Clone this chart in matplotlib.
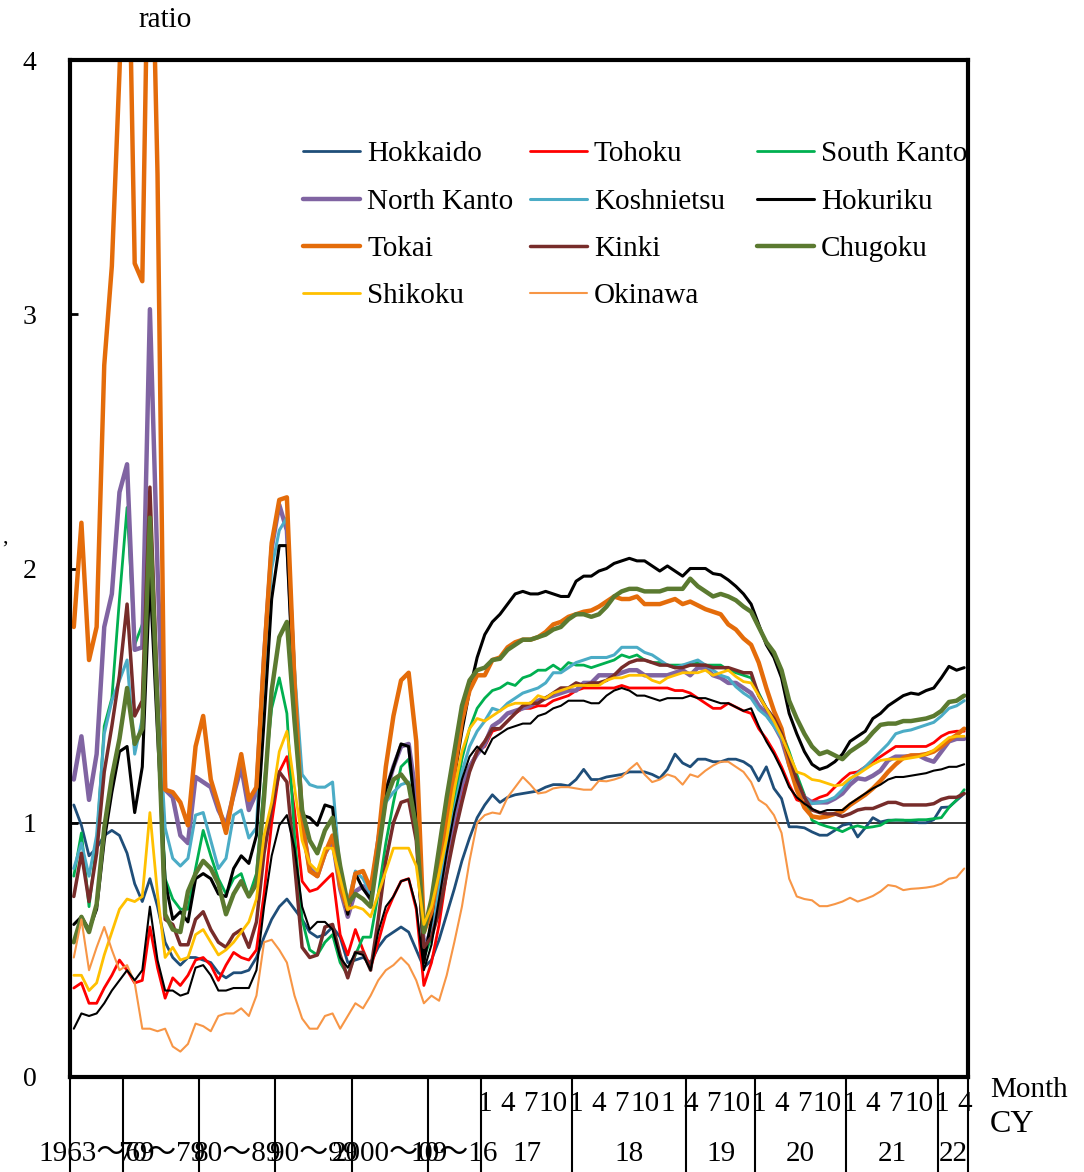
import matplotlib
matplotlib.use('Agg')
import matplotlib.pyplot as plt
import matplotlib.transforms as mtransforms

plt.rcParams['font.family'] = ['Liberation Serif', 'Noto Sans CJK JP']

# ---------------- data ----------------
annual_years = list(range(1963, 2017))            # 54 annual points
monthly_months = [(y, m) for y in range(2017, 2023) for m in range(1, 13)][:64]  # Jan 2017 - Apr 2022

group_labels = ['1963～69', '70～79', '80～89', '90～99', '2000～09', '10～16',
                '17', '18', '19', '20', '21', '22']
group_sizes = [7, 10, 10, 10, 10, 7, 12, 15, 9, 12, 12, 4]

hokkaido_annual = [1.07, 0.99, 0.87, 0.90, 0.95, 0.97, 0.95, 0.88, 0.76, 0.69,
                   0.78, 0.67, 0.53, 0.47, 0.44, 0.47, 0.47, 0.46, 0.45, 0.41,
                   0.39, 0.41, 0.41, 0.42, 0.47, 0.55, 0.62, 0.67, 0.70, 0.66,
                   0.62, 0.57, 0.55, 0.56, 0.59, 0.55, 0.45, 0.46, 0.47, 0.45,
                   0.51, 0.55, 0.57, 0.59, 0.57, 0.50, 0.43, 0.46, 0.54, 0.64,
                   0.74, 0.85, 0.94, 1.02]
hokkaido_monthly = [1.07, 1.11, 1.08, 1.10, 1.11, 1.115, 1.12, 1.125, 1.14, 1.15, 1.15, 1.145,
                    1.17, 1.21, 1.17, 1.17, 1.18, 1.185, 1.19, 1.20, 1.20, 1.20, 1.19, 1.175,
                    1.21, 1.27, 1.235, 1.22, 1.25, 1.25, 1.24, 1.24, 1.25, 1.25, 1.24, 1.22,
                    1.165, 1.22, 1.135, 1.095, 0.984, 0.984, 0.98, 0.964, 0.951, 0.951, 0.97, 0.99,
                    0.997, 0.944, 0.98, 1.02, 1.003, 1.01, 1.01, 1.01, 1.005, 1.0, 1.0, 1.012,
                    1.06, 1.062, 1.088, 1.114]

tohoku_annual = [0.35, 0.37, 0.29, 0.29, 0.35, 0.40, 0.46, 0.42, 0.37, 0.38,
                 0.59, 0.43, 0.31, 0.39, 0.36, 0.40, 0.46, 0.47, 0.44, 0.38,
                 0.44, 0.49, 0.47, 0.46, 0.50, 0.72, 1.00, 1.20, 1.26, 1.05,
                 0.77, 0.73, 0.74, 0.77, 0.80, 0.56, 0.48, 0.58, 0.50, 0.43,
                 0.53, 0.64, 0.71, 0.77, 0.78, 0.66, 0.36, 0.45, 0.60, 0.80,
                 0.98, 1.12, 1.22, 1.28]
tohoku_monthly = [1.30, 1.36, 1.37, 1.40, 1.43, 1.45, 1.45, 1.46, 1.46, 1.48, 1.49, 1.50,
                  1.52, 1.53, 1.53, 1.53, 1.53, 1.53, 1.54, 1.53, 1.53, 1.53, 1.53, 1.53,
                  1.53, 1.52, 1.52, 1.51, 1.49, 1.47, 1.45, 1.45, 1.47, 1.455, 1.44, 1.43,
                  1.37, 1.33, 1.28, 1.22, 1.15, 1.09, 1.08, 1.085, 1.10, 1.11, 1.14, 1.17,
                  1.195, 1.20, 1.22, 1.24, 1.26, 1.28, 1.30, 1.30, 1.30, 1.30, 1.30, 1.315,
                  1.34, 1.355, 1.36, 1.36]

south_kanto_annual = [0.79, 0.96, 0.67, 0.92, 1.38, 1.49, 1.88, 2.24, 1.70, 1.78,
                      2.05, 1.45, 0.78, 0.70, 0.66, 0.66, 0.82, 0.97, 0.87, 0.78,
                      0.72, 0.78, 0.80, 0.71, 0.80, 1.15, 1.45, 1.57, 1.43, 0.95,
                      0.62, 0.50, 0.48, 0.53, 0.56, 0.45, 0.40, 0.48, 0.55, 0.55,
                      0.72, 0.92, 1.08, 1.22, 1.25, 1.05, 0.47, 0.55, 0.70, 0.90,
                      1.08, 1.25, 1.37, 1.45]
south_kanto_monthly = [1.49, 1.52, 1.53, 1.55, 1.54, 1.57, 1.58, 1.60, 1.60, 1.62, 1.60, 1.63,
                       1.62, 1.62, 1.61, 1.62, 1.63, 1.64, 1.66, 1.65, 1.66, 1.64, 1.63, 1.63,
                       1.62, 1.62, 1.62, 1.62, 1.63, 1.62, 1.62, 1.62, 1.60, 1.59, 1.58, 1.57,
                       1.51, 1.45, 1.41, 1.36, 1.28, 1.19, 1.11, 1.01, 0.995, 0.985, 0.977, 0.965,
                       0.98, 0.988, 0.98, 0.984, 0.99, 1.008, 1.011, 1.01, 1.01, 1.012, 1.012, 1.016,
                       1.02, 1.06, 1.09, 1.13]

north_kanto_annual = [1.17, 1.34, 1.09, 1.27, 1.77, 1.90, 2.30, 2.41, 1.68, 1.69,
                      3.02, 2.00, 1.13, 1.10, 0.95, 0.92, 1.18, 1.16, 1.14, 1.05,
                      0.99, 1.11, 1.22, 1.05, 1.12, 1.65, 2.08, 2.25, 2.15, 1.55,
                      1.00, 0.82, 0.79, 0.88, 0.93, 0.74, 0.63, 0.73, 0.75, 0.70,
                      0.93, 1.12, 1.22, 1.30, 1.31, 1.10, 0.50, 0.58, 0.72, 0.88,
                      1.02, 1.15, 1.22, 1.27]
north_kanto_monthly = [1.31, 1.38, 1.40, 1.43, 1.44, 1.45, 1.46, 1.48, 1.49, 1.50, 1.51, 1.52,
                       1.52, 1.55, 1.55, 1.58, 1.58, 1.58, 1.59, 1.60, 1.60, 1.58, 1.58, 1.58,
                       1.58, 1.59, 1.60, 1.58, 1.61, 1.61, 1.58, 1.57, 1.55, 1.55, 1.53, 1.51,
                       1.46, 1.43, 1.385, 1.33, 1.23, 1.15, 1.10, 1.08, 1.08, 1.08, 1.095, 1.115,
                       1.15, 1.175, 1.17, 1.185, 1.205, 1.245, 1.26, 1.26, 1.262, 1.265, 1.25, 1.24,
                       1.28, 1.32, 1.33, 1.33]

koshinetsu_annual = [0.82, 0.92, 0.79, 0.95, 1.35, 1.48, 1.56, 1.64, 1.27, 1.41,
                     2.05, 1.50, 0.98, 0.86, 0.83, 0.86, 1.03, 1.04, 0.93, 0.82,
                     0.86, 1.03, 1.05, 0.94, 0.98, 1.55, 2.00, 2.15, 2.20, 1.60,
                     1.19, 1.15, 1.14, 1.14, 1.16, 0.80, 0.68, 0.81, 0.78, 0.72,
                     0.92, 1.08, 1.12, 1.15, 1.16, 1.00, 0.47, 0.60, 0.75, 0.90,
                     1.05, 1.20, 1.30, 1.36]
koshinetsu_monthly = [1.40, 1.45, 1.44, 1.47, 1.49, 1.51, 1.52, 1.53, 1.55, 1.59, 1.59, 1.61,
                      1.63, 1.64, 1.65, 1.65, 1.65, 1.66, 1.69, 1.69, 1.69, 1.67, 1.66, 1.64,
                      1.62, 1.61, 1.62, 1.63, 1.64, 1.62, 1.60, 1.58, 1.57, 1.535, 1.51, 1.49,
                      1.445, 1.42, 1.38, 1.335, 1.26, 1.165, 1.10, 1.075, 1.08, 1.087, 1.10, 1.13,
                      1.17, 1.195, 1.22, 1.25, 1.28, 1.31, 1.35, 1.36, 1.365, 1.375, 1.385, 1.395,
                      1.42, 1.45, 1.46, 1.48]

hokuriku_annual = [0.60, 0.63, 0.58, 0.66, 0.93, 1.12, 1.28, 1.30, 1.04, 1.22,
                   1.97, 1.35, 0.77, 0.62, 0.65, 0.61, 0.78, 0.80, 0.78, 0.72,
                   0.71, 0.82, 0.87, 0.84, 0.95, 1.40, 1.88, 2.09, 2.09, 1.45,
                   1.03, 1.02, 0.99, 1.07, 1.06, 0.78, 0.64, 0.80, 0.74, 0.70,
                   0.90, 1.13, 1.22, 1.31, 1.30, 1.00, 0.45, 0.62, 0.87, 1.02,
                   1.18, 1.36, 1.52, 1.65]
hokuriku_monthly = [1.74, 1.79, 1.82, 1.86, 1.90, 1.91, 1.90, 1.90, 1.91, 1.90, 1.89, 1.89,
                    1.95, 1.97, 1.97, 1.99, 2.00, 2.02, 2.03, 2.04, 2.03, 2.03, 2.01, 1.99,
                    2.01, 1.99, 1.97, 2.00, 2.00, 2.00, 1.98, 1.975, 1.955, 1.93, 1.90, 1.86,
                    1.78, 1.70, 1.65, 1.57, 1.43, 1.35, 1.28, 1.23, 1.21, 1.22, 1.24, 1.27,
                    1.32, 1.34, 1.36, 1.41, 1.43, 1.46, 1.48, 1.50, 1.51, 1.505, 1.52, 1.53,
                    1.57, 1.615, 1.60, 1.61]

tokai_annual = [1.77, 2.18, 1.64, 1.77, 2.80, 3.19, 3.95, 4.85, 3.20, 3.13,
                4.90, 3.55, 1.13, 1.12, 1.08, 0.99, 1.30, 1.42, 1.17, 1.07,
                0.96, 1.12, 1.27, 1.09, 1.14, 1.65, 2.10, 2.27, 2.28, 1.55,
                1.00, 0.81, 0.79, 0.88, 0.95, 0.75, 0.66, 0.80, 0.81, 0.74,
                0.93, 1.22, 1.42, 1.56, 1.59, 1.32, 0.57, 0.65, 0.82, 1.00,
                1.20, 1.40, 1.52, 1.58]
tokai_monthly = [1.58, 1.64, 1.65, 1.69, 1.71, 1.72, 1.72, 1.73, 1.75, 1.78, 1.79, 1.81,
                 1.82, 1.83, 1.835, 1.85, 1.87, 1.89, 1.88, 1.88, 1.89, 1.86, 1.86, 1.86,
                 1.87, 1.88, 1.86, 1.87, 1.855, 1.84, 1.83, 1.82, 1.78, 1.76, 1.725, 1.70,
                 1.63, 1.53, 1.44, 1.37, 1.23, 1.13, 1.06, 1.025, 1.02, 1.025, 1.035, 1.045,
                 1.07, 1.09, 1.11, 1.135, 1.165, 1.20, 1.23, 1.255, 1.265, 1.265, 1.27, 1.28,
                 1.30, 1.325, 1.345, 1.37]

kinki_annual = [0.71, 0.88, 0.69, 0.88, 1.20, 1.38, 1.58, 1.86, 1.42, 1.48,
                2.32, 1.50, 0.62, 0.60, 0.52, 0.52, 0.62, 0.65, 0.58, 0.53,
                0.51, 0.56, 0.58, 0.51, 0.61, 0.88, 1.06, 1.20, 1.16, 0.84,
                0.51, 0.47, 0.48, 0.59, 0.60, 0.48, 0.39, 0.49, 0.49, 0.42,
                0.62, 0.85, 1.00, 1.08, 1.09, 0.93, 0.51, 0.55, 0.65, 0.80,
                0.95, 1.08, 1.20, 1.28]
kinki_monthly = [1.32, 1.37, 1.37, 1.40, 1.43, 1.46, 1.47, 1.47, 1.49, 1.51, 1.53, 1.53,
                 1.55, 1.54, 1.55, 1.55, 1.56, 1.58, 1.61, 1.63, 1.64, 1.64, 1.63, 1.62,
                 1.62, 1.61, 1.61, 1.62, 1.62, 1.62, 1.61, 1.61, 1.61, 1.60, 1.59, 1.59,
                 1.50, 1.45, 1.41, 1.35, 1.26, 1.17, 1.10, 1.05, 1.04, 1.035, 1.035, 1.025,
                 1.035, 1.05, 1.056, 1.056, 1.068, 1.08, 1.08, 1.07, 1.07, 1.07, 1.07, 1.075,
                 1.092, 1.10, 1.10, 1.115]

chugoku_annual = [0.53, 0.63, 0.57, 0.68, 0.98, 1.18, 1.33, 1.53, 1.31, 1.37,
                  2.20, 1.45, 0.64, 0.58, 0.57, 0.73, 0.80, 0.85, 0.82, 0.76,
                  0.64, 0.72, 0.77, 0.71, 0.76, 1.10, 1.52, 1.73, 1.79, 1.40,
                  1.05, 0.93, 0.88, 0.97, 1.02, 0.83, 0.68, 0.72, 0.70, 0.67,
                  0.88, 1.09, 1.17, 1.19, 1.15, 0.98, 0.57, 0.70, 0.90, 1.10,
                  1.28, 1.46, 1.56, 1.60]
chugoku_monthly = [1.61, 1.64, 1.645, 1.68, 1.70, 1.72, 1.72, 1.73, 1.74, 1.76, 1.77, 1.80,
                   1.82, 1.82, 1.81, 1.82, 1.85, 1.89, 1.91, 1.92, 1.92, 1.91, 1.91, 1.91,
                   1.92, 1.92, 1.92, 1.96, 1.93, 1.91, 1.89, 1.90, 1.89, 1.875, 1.85, 1.83,
                   1.77, 1.71, 1.67, 1.60, 1.48, 1.41, 1.35, 1.30, 1.27, 1.28, 1.265, 1.25,
                   1.28, 1.30, 1.32, 1.355, 1.385, 1.39, 1.39, 1.40, 1.40, 1.405, 1.41, 1.42,
                   1.44, 1.475, 1.48, 1.50]

shikoku_annual = [0.40, 0.40, 0.34, 0.37, 0.48, 0.57, 0.66, 0.70, 0.69, 0.71,
                  1.04, 0.72, 0.47, 0.51, 0.46, 0.47, 0.56, 0.58, 0.53, 0.48,
                  0.50, 0.53, 0.57, 0.61, 0.70, 0.95, 1.08, 1.28, 1.36, 1.14,
                  0.93, 0.84, 0.81, 0.90, 0.90, 0.78, 0.66, 0.67, 0.66, 0.63,
                  0.72, 0.81, 0.90, 0.90, 0.90, 0.83, 0.60, 0.67, 0.80, 0.94,
                  1.13, 1.28, 1.37, 1.41]
shikoku_monthly = [1.40, 1.42, 1.44, 1.46, 1.47, 1.47, 1.47, 1.50, 1.49, 1.51, 1.52, 1.53,
                   1.54, 1.54, 1.54, 1.54, 1.56, 1.57, 1.57, 1.58, 1.58, 1.58, 1.56, 1.55,
                   1.57, 1.58, 1.59, 1.59, 1.59, 1.60, 1.58, 1.59, 1.60, 1.575, 1.555, 1.55,
                   1.50, 1.45, 1.40, 1.34, 1.27, 1.20, 1.19, 1.17, 1.165, 1.155, 1.145, 1.15,
                   1.175, 1.19, 1.21, 1.23, 1.245, 1.25, 1.25, 1.25, 1.255, 1.26, 1.27, 1.285,
                   1.31, 1.335, 1.34, 1.34]

okinawa_annual = [0.47, 0.62, 0.42, 0.51, 0.59, 0.50, 0.42, 0.44, 0.37, 0.19,
                  0.19, 0.18, 0.19, 0.12, 0.10, 0.13, 0.21, 0.20, 0.18, 0.24,
                  0.25, 0.25, 0.27, 0.24, 0.32, 0.53, 0.54, 0.50, 0.45, 0.32,
                  0.23, 0.19, 0.19, 0.24, 0.25, 0.19, 0.24, 0.29, 0.27, 0.32,
                  0.38, 0.42, 0.44, 0.47, 0.44, 0.38, 0.29, 0.32, 0.30, 0.40,
                  0.53, 0.67, 0.85, 1.00]
okinawa_monthly = [1.03, 1.04, 1.035, 1.10, 1.14, 1.18, 1.15, 1.115, 1.12, 1.135, 1.14, 1.14,
                   1.135, 1.13, 1.13, 1.165, 1.163, 1.17, 1.18, 1.21, 1.235, 1.19, 1.16, 1.17,
                   1.19, 1.18, 1.15, 1.19, 1.18, 1.205, 1.225, 1.24, 1.24, 1.22, 1.20, 1.16,
                   1.09, 1.07, 1.03, 0.96, 0.78, 0.71, 0.70, 0.695, 0.672, 0.672, 0.68, 0.69,
                   0.705, 0.69, 0.70, 0.712, 0.73, 0.755, 0.75, 0.735, 0.74, 0.742, 0.745, 0.75,
                   0.76, 0.78, 0.785, 0.82]

kyushu_annual = [0.19, 0.25, 0.24, 0.25, 0.29, 0.34, 0.38, 0.42, 0.38, 0.42,
                 0.67, 0.46, 0.34, 0.34, 0.32, 0.33, 0.43, 0.44, 0.40, 0.34,
                 0.34, 0.35, 0.35, 0.35, 0.42, 0.67, 0.87, 0.99, 1.03, 0.90,
                 0.67, 0.58, 0.61, 0.61, 0.58, 0.47, 0.43, 0.49, 0.48, 0.42,
                 0.57, 0.67, 0.71, 0.77, 0.78, 0.67, 0.42, 0.52, 0.70, 0.88,
                 1.04, 1.17, 1.26, 1.30]
kyushu_monthly = [1.27, 1.33, 1.35, 1.37, 1.38, 1.39, 1.39, 1.42, 1.43, 1.45, 1.46, 1.48,
                  1.48, 1.48, 1.47, 1.47, 1.50, 1.52, 1.53, 1.52, 1.50, 1.50, 1.49, 1.48,
                  1.49, 1.49, 1.49, 1.50, 1.49, 1.49, 1.48, 1.47, 1.47, 1.455, 1.44, 1.45,
                  1.38, 1.32, 1.27, 1.21, 1.14, 1.10, 1.075, 1.055, 1.04, 1.05, 1.05, 1.05,
                  1.075, 1.095, 1.115, 1.135, 1.15, 1.17, 1.18, 1.18, 1.185, 1.19, 1.195, 1.205,
                  1.21, 1.22, 1.22, 1.23]

# name, annual, monthly, color, linewidth(pt), legend slot (col,row) or None
series = [
    ('Hokkaido',    hokkaido_annual,    hokkaido_monthly,    '#1F4E79', 2.0, (0, 0)),
    ('Tohoku',      tohoku_annual,      tohoku_monthly,      '#FF0000', 2.0, (1, 0)),
    ('South Kanto', south_kanto_annual, south_kanto_monthly, '#00B050', 2.0, (2, 0)),
    ('North Kanto', north_kanto_annual, north_kanto_monthly, '#8064A2', 3.2, (0, 1)),
    ('Koshnietsu',  koshinetsu_annual,  koshinetsu_monthly,  '#4BACC6', 2.2, (1, 1)),
    ('Hokuriku',    hokuriku_annual,    hokuriku_monthly,    '#000000', 2.2, (2, 1)),
    ('Tokai',       tokai_annual,       tokai_monthly,       '#E46C0A', 3.2, (0, 2)),
    ('Kinki',       kinki_annual,       kinki_monthly,       '#772C2A', 2.5, (1, 2)),
    ('Chugoku',     chugoku_annual,     chugoku_monthly,     '#5B7A30', 3.2, (2, 2)),
    ('Shikoku',     shikoku_annual,     shikoku_monthly,     '#FFC000', 2.0, (0, 3)),
    ('Okinawa',     okinawa_annual,     okinawa_monthly,     '#F79646', 1.5, (1, 3)),
    ('Kyushu',      kyushu_annual,      kyushu_monthly,      '#000000', 1.5, None),
]

# ---------------- figure ----------------
W, H = 1084, 1172
fig = plt.figure(figsize=(W / 100, H / 100), dpi=100)
L, R, T, B = 70, 968, 60, 1077
ax = fig.add_axes([L / W, 1 - B / H, (R - L) / W, (B - T) / H])

n_cat = len(annual_years) + len(monthly_months)
x = list(range(n_cat))

for name, ann, mon, col, lw, slot in series:
    ax.plot(x, list(ann) + list(mon), color=col, lw=lw,
            solid_joinstyle='round', solid_capstyle='round')

ax.axhline(1.0, color='black', lw=1.1, zorder=1)

ax.set_xlim(-0.5, n_cat - 0.5)
ax.set_ylim(0, 4)
ax.set_yticks([0, 1, 2, 3, 4])
ax.set_yticklabels(['0', '1', '2', '3', '4'], fontsize=20)
ax.tick_params(axis='y', direction='in', length=6, width=2, pad=24, right=False)
ax.set_xticks([])
for sp in ax.spines.values():
    sp.set_linewidth(3.0)
    sp.set_color('black')

# ---------------- category axis (two levels) ----------------
trans = mtransforms.blended_transform_factory(ax.transData, ax.transAxes)
y_bottom = -(H - B) / (B - T)
row1_y = -(1104 - B) / (B - T)
row2_y = -(1154 - B) / (B - T)

bounds = [-0.5]
for s in group_sizes:
    bounds.append(bounds[-1] + s)
for b in bounds:
    ax.plot([b, b], [0, y_bottom], transform=trans, color='black', lw=1.5,
            clip_on=False, solid_capstyle='butt')
for lab, b0, b1 in zip(group_labels, bounds[:-1], bounds[1:]):
    ax.text((b0 + b1) / 2, row2_y, lab, transform=trans, ha='center', va='center',
            fontsize=21)

n_ann = len(annual_years)
for k, (yy, mm) in enumerate(monthly_months):
    if k % 3 == 0:
        ax.text(n_ann + k, row1_y, str(mm), transform=trans, ha='center', va='center',
                fontsize=21)

fig.text(990 / W, 1 - 1090 / H, 'Month', ha='left', va='center', fontsize=21)
fig.text(990 / W, 1 - 1124 / H, 'CY', ha='left', va='center', fontsize=23)
fig.text(165 / W, 1 - 20 / H, 'ratio', ha='center', va='center', fontsize=21)
fig.text(5 / W, 1 - 538 / H, ',', ha='center', va='center', fontsize=16)

# ---------------- legend (3 columns, Excel-like equal widths) ----------------
def ax_x(px):
    return (px - L) / (R - L)

def ax_y(py):
    return (B - py) / (B - T)

col_x = [303, 530, 757]
row_y = [151, 199, 246, 293]
for name, ann, mon, col, lw, slot in series:
    if slot is None:
        continue
    c, r = slot
    x0 = col_x[c]
    yy = row_y[r]
    ax.plot([ax_x(x0), ax_x(x0 + 57)], [ax_y(yy), ax_y(yy)], transform=ax.transAxes,
            color=col, lw=lw, solid_capstyle='round', clip_on=False)
    ax.text(ax_x(x0 + 64), ax_y(yy + 3), name, transform=ax.transAxes, ha='left',
            va='center', fontsize=21)

fig.savefig('out.png', dpi=100)
